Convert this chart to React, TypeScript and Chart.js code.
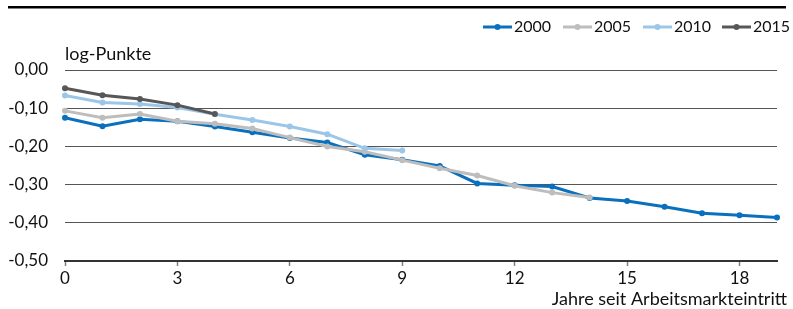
import React, { useEffect, useRef } from "react";
import { Chart, registerables } from "chart.js";

Chart.register(...registerables);

const years = [0, 1, 2, 3, 4, 5, 6, 7, 8, 9, 10, 11, 12, 13, 14, 15, 16, 17, 18, 19];
const xTicks = [0, 3, 6, 9, 12, 15, 18];
const seriesNames = ["2000", "2005", "2010", "2015"];
const s2000 = [-0.125, -0.147, -0.129, -0.134, -0.148, -0.163, -0.178, -0.19, -0.222, -0.235, -0.251, -0.297, -0.302, -0.305, -0.335, -0.343, -0.358, -0.375, -0.38, -0.386];
const s2005 = [-0.107, -0.125, -0.115, -0.134, -0.141, -0.153, -0.177, -0.2, -0.214, -0.236, -0.257, -0.276, -0.303, -0.321, -0.334];
const s2010 = [-0.067, -0.085, -0.089, -0.098, -0.116, -0.131, -0.148, -0.168, -0.205, -0.211];
const s2015 = [-0.048, -0.066, -0.076, -0.092, -0.115];
const colors = ["#0A70BE", "#BDBDBD", "#9CC6E8", "#575757"];
const yAxisLabel = "log-Punkte";
const xAxisLabel = "Jahre seit Arbeitsmarkteintritt";

const FONT = "Lato, 'Noto Sans', sans-serif";

export default function App() {
  const ref = useRef<HTMLCanvasElement | null>(null);
  useEffect(() => {
    const all = [s2000, s2005, s2010, s2015];
    const datasets = all.map((vals, i) => ({
      label: seriesNames[i],
      data: vals.map((v, j) => ({ x: years[j], y: v })),
      borderColor: colors[i],
      backgroundColor: colors[i],
      borderWidth: 3,
      pointRadius: 3,
      pointHoverRadius: 3,
      pointBorderWidth: 0,
      tension: 0,
      clip: false as any,
      order: 4 - i,
    }));

    const extras = {
      id: "extras",
      afterDraw(chart: any) {
        const ctx = chart.ctx;
        ctx.save();
        // top rule
        ctx.fillStyle = "#000";
        ctx.fillRect(8, 6, 778, 2.5);
        ctx.font = `18px ${FONT}`;
        ctx.fillStyle = "#111";
        ctx.textBaseline = "middle";
        ctx.textAlign = "left";
        ctx.fillText(yAxisLabel, 65, 54);
        ctx.textAlign = "right";
        ctx.fillText(xAxisLabel, 787, 299);
        // legend
        ctx.font = `16px ${FONT}`;
        const starts = [483, 563, 643, 722];
        for (let i = 0; i < seriesNames.length; i++) {
          const x0 = starts[i];
          const y = 27;
          ctx.strokeStyle = colors[i];
          ctx.lineWidth = 3;
          ctx.beginPath();
          ctx.moveTo(x0, y);
          ctx.lineTo(x0 + 29, y);
          ctx.stroke();
          ctx.fillStyle = colors[i];
          ctx.beginPath();
          ctx.arc(x0 + 14.5, y, 3, 0, Math.PI * 2);
          ctx.fill();
          ctx.fillStyle = "#111";
          ctx.textAlign = "left";
          ctx.fillText(seriesNames[i], x0 + 31, y);
        }
        ctx.restore();
      },
    };

    const chart = new Chart(ref.current as HTMLCanvasElement, {
      type: "line",
      data: { datasets: datasets as any },
      plugins: [extras],
      options: {
        animation: false,
        responsive: false,
        events: [],
        layout: { padding: { top: 70, right: 16, left: 0, bottom: 0 } },
        plugins: { legend: { display: false }, tooltip: { enabled: false } },
        scales: {
          x: {
            type: "linear",
            min: 0,
            max: 19,
            afterFit: (s: any) => {
              s.height = 48;
            },
            afterBuildTicks: (s: any) => {
              s.ticks = xTicks.map((v) => ({ value: v }));
            },
            grid: {
              drawOnChartArea: false,
              drawTicks: true,
              tickLength: 5,
              tickWidth: 1.5,
              tickColor: "#808080",
            },
            border: { display: true, color: "#333", width: 2 },
            ticks: {
              autoSkip: false,
              maxRotation: 0,
              padding: 2,
              color: "#111",
              font: { family: FONT, size: 17 },
              callback: (v: any) => String(v),
            },
          },
          y: {
            type: "linear",
            min: -0.5,
            max: 0,
            afterFit: (s: any) => {
              s.width = 65;
            },
            grid: { color: "#555", lineWidth: 1, drawTicks: false },
            border: { display: false },
            ticks: {
              stepSize: 0.1,
              padding: 17,
              color: "#111",
              font: { family: FONT, size: 17 },
              callback: (v: any) => Number(v).toFixed(2).replace(".", ","),
            },
          },
        },
      },
    });
    return () => chart.destroy();
  }, []);
  return (
    <div style={{ position: "absolute", left: 0, top: 0, width: 793, height: 309 }}>
      <canvas ref={ref} width={793} height={309} style={{ display: "block", width: 793, height: 309 }} />
    </div>
  );
}
